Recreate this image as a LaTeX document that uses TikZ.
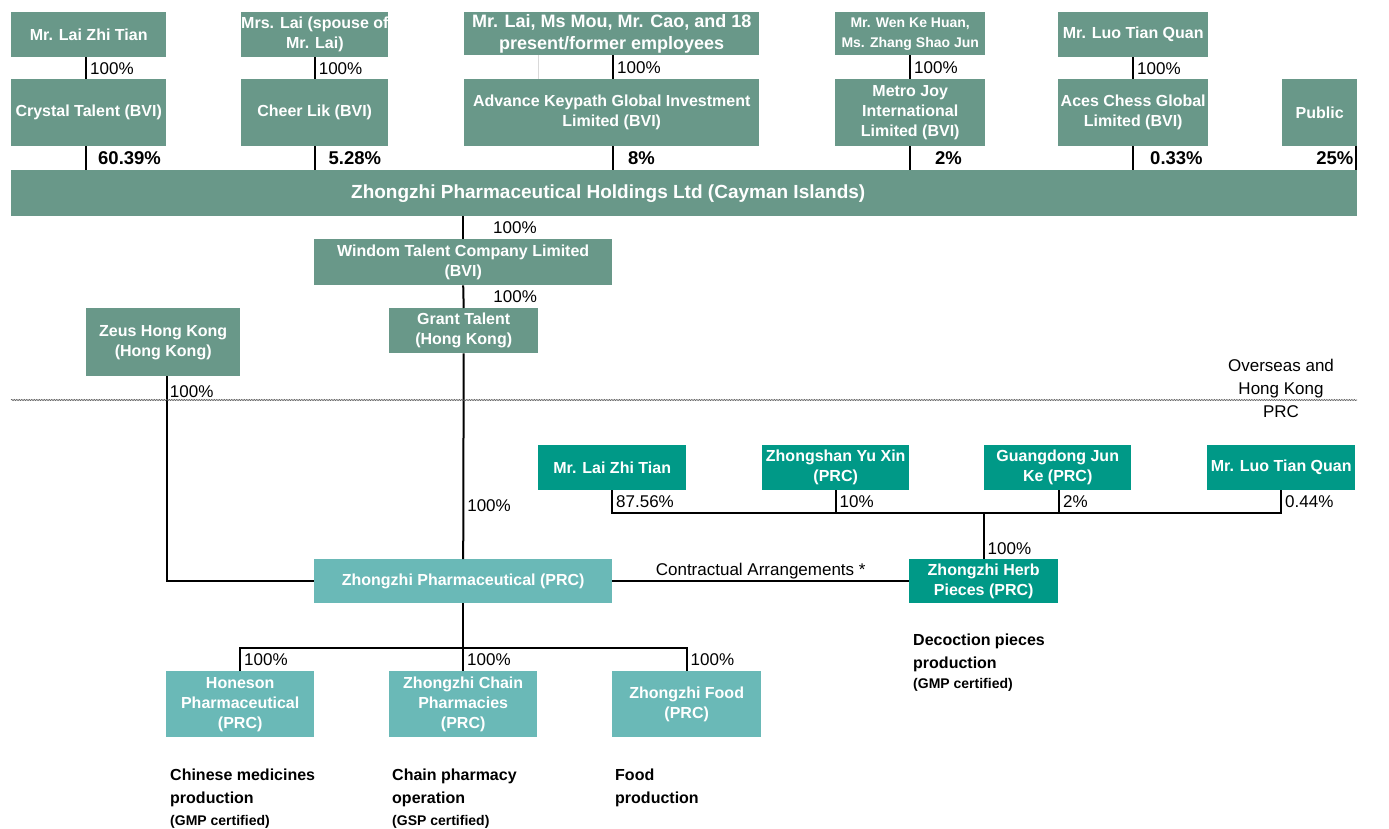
\documentclass[tikz,border=0pt]{standalone}
\usepackage{fontspec}
\setmainfont{Liberation Sans}
\usetikzlibrary{decorations.pathmorphing}
\definecolor{gcol}{RGB}{105,152,137}
\definecolor{tcol}{RGB}{0,153,135}
\definecolor{lcol}{RGB}{106,185,183}
\newcommand{\fsz}[2]{\fontsize{#1}{#2}\selectfont}
\newcommand{\bx}[7]{\node[#6, minimum width={#4pt-#2pt}, minimum height={#5pt-#3pt}] (#1) at (#2,#3) {#7};}
\begin{document}
\begin{tikzpicture}[x=1pt,y=-1pt,
  box/.style={anchor=north west, inner sep=0pt, align=center, text=white, font=\bfseries\fsz{16}{20}},
  gbox/.style={box, fill=gcol},
  tbox/.style={box, fill=tcol},
  lbox/.style={box, fill=lcol},
  conn/.style={line width=2pt, black},
  pct/.style={font=\fsz{17}{20}, inner sep=1pt},
  pl/.style={right, xshift=2pt, pct},
  bpct/.style={font=\bfseries\fsz{18.5}{22}, inner sep=1pt},
  desc/.style={anchor=base west, inner sep=0pt, font=\bfseries\fsz{16}{20}},
  descs/.style={anchor=base west, inner sep=0pt, font=\bfseries\fsz{14}{18}},
  sepline/.style={decorate, decoration={snake, amplitude=0.6pt, segment length=2.5pt}, draw=black!65, line width=0.6pt},
]
\fill[white] (0,0) rectangle (1389,829);
\useasboundingbox (0,0) rectangle (1389,829);

% top owners
\bx{lai1}{11}{12}{166}{57}{gbox}{Mr. Lai Zhi Tian}
\bx{mrslai}{241}{12}{388}{57}{gbox}{Mrs. Lai (spouse of\\Mr. Lai)}
\bx{employees}{464}{12}{759}{55}{gbox, font=\bfseries\fsz{18}{22}}{Mr. Lai, Ms Mou, Mr. Cao, and 18\\present/former employees}
\bx{wen}{835}{12}{985}{55}{gbox, font=\bfseries\fsz{14}{20}}{Mr. Wen Ke Huan,\\Ms. Zhang Shao Jun}
\bx{luo1}{1058}{12}{1208}{57}{gbox}{Mr. Luo Tian Quan}

% BVI holding companies
\bx{crystal}{11}{79}{166}{146}{gbox}{Crystal Talent (BVI)}
\bx{cheer}{241}{79}{388}{146}{gbox}{Cheer Lik (BVI)}
\bx{advance}{464}{79}{759}{146}{gbox}{Advance Keypath Global Investment\\Limited (BVI)}
\bx{metro}{835}{79}{985}{146}{gbox}{Metro Joy\\International\\Limited (BVI)}
\bx{aces}{1058}{79}{1208}{146}{gbox}{Aces Chess Global\\Limited (BVI)}
\bx{public}{1282}{79}{1357}{146}{gbox}{Public}

\bx{holding}{11}{170}{1357}{216}{gbox, font=\bfseries\fsz{19}{23}}{\hspace*{-152pt}Zhongzhi Pharmaceutical Holdings Ltd (Cayman Islands)}

\bx{windom}{314}{239}{612}{285}{gbox}{Windom Talent Company Limited\\(BVI)}
\bx{grant}{389}{308}{538}{353}{gbox}{Grant Talent\\(Hong Kong)}
\bx{zeus}{86}{308}{240}{376}{gbox}{Zeus Hong Kong\\(Hong Kong)}

% PRC
\bx{lai2}{538}{445}{686}{490}{tbox}{Mr. Lai Zhi Tian}
\bx{zys}{762}{445}{909}{490}{tbox}{Zhongshan Yu Xin\\(PRC)}
\bx{gjk}{984}{445}{1131}{490}{tbox}{Guangdong Jun\\Ke (PRC)}
\bx{luo2}{1207}{445}{1355}{490}{tbox}{Mr. Luo Tian Quan}
\bx{pharma}{314}{559}{612}{603}{lbox}{Zhongzhi Pharmaceutical (PRC)}
\bx{herb}{909}{559}{1058}{603}{tbox}{Zhongzhi Herb\\Pieces (PRC)}
\bx{hon}{166}{671}{314}{737}{lbox}{Honeson\\Pharmaceutical\\(PRC)}
\bx{chain}{389}{671}{537}{737}{lbox}{Zhongzhi Chain\\Pharmacies\\(PRC)}
\bx{food}{612}{671}{761}{737}{lbox}{Zhongzhi Food\\(PRC)}

% top connectors
\draw[conn] ([xshift=-2.5pt]lai1.south) -- ([xshift=-2.5pt]lai1.south |- crystal.north) node[midway, pl]{100\%};
\draw[conn] (mrslai.south) -- (mrslai.south |- cheer.north) node[midway, pl]{100\%};
\draw[line width=1pt, black!15] ([xshift=-73.5pt]employees.south) -- ([xshift=-73.5pt]employees.south |- advance.north);
\draw[conn] ([xshift=1.5pt]employees.south) -- ([xshift=1.5pt]employees.south |- advance.north) node[midway, pl]{100\%};
\draw[conn] (wen.south) -- (wen.south |- metro.north) node[midway, pl]{100\%};
\draw[conn] (luo1.south) -- (luo1.south |- aces.north) node[midway, pl]{100\%};

\draw[conn] ([xshift=-2.5pt]crystal.south) -- ([xshift=-2.5pt]crystal.south |- holding.north) node[midway, anchor=west, xshift=10pt, bpct]{60.39\%};
\draw[conn] (cheer.south) -- (cheer.south |- holding.north) node[midway, anchor=west, xshift=12pt, bpct]{5.28\%};
\draw[conn] ([xshift=1.5pt]advance.south) -- ([xshift=1.5pt]advance.south |- holding.north) node[midway, anchor=west, xshift=13pt, bpct]{8\%};
\draw[conn] (metro.south) -- (metro.south |- holding.north) node[midway, anchor=west, xshift=23pt, bpct]{2\%};
\draw[conn] (aces.south) -- (aces.south |- holding.north) node[midway, anchor=west, xshift=15pt, bpct]{0.33\%};
\draw[conn] ([xshift=-1pt]public.south east) -- ([xshift=-1pt]public.south east |- holding.north) node[midway, anchor=east, xshift=-1pt, bpct]{25\%};

% middle
\draw[conn] (windom.north |- holding.south) -- (windom.north) node[midway, anchor=west, xshift=28pt, pct]{100\%};
\draw[conn] (windom.south) -- (grant.north) node[midway, anchor=west, xshift=28pt, pct]{100\%};
\draw[conn] (grant.south) -- (pharma.north) node[pos=0.74, pl]{100\%};
\draw[conn] ([xshift=3.5pt]zeus.south) -- ([xshift=3.5pt]zeus.south |- pharma.west) -- (pharma.west);
\node[pct, anchor=west] (zlab) at ([xshift=5.5pt, yshift=-15pt]zeus.south) {100\%};

% border line
\draw[sepline] (11,400) -- (1357,400);
\node[font=\fsz{17}{23}, align=center, inner sep=0pt] (ovs) at (1281,379) {Overseas and\\Hong Kong};
\node[font=\fsz{17}{23}, inner sep=0pt] (prc) at (1281,412) {PRC};

% PRC shareholders
\coordinate (bar) at (0,513);
\draw[conn] (lai2.south) -- (lai2.south |- bar) node[midway, pl]{87.56\%} -- (luo2.south |- bar) -- (luo2.south) node[midway, pl]{0.44\%};
\draw[conn] (zys.south) -- (zys.south |- bar) node[midway, pl]{10\%};
\draw[conn] ([xshift=1.5pt]gjk.south) -- ([xshift=1.5pt]gjk.south |- bar) node[midway, pl]{2\%};
\draw[conn] (herb.north |- bar) -- (herb.north) node[pos=0.78, pl]{100\%};

\draw[conn] (pharma.east) -- (herb.west) node[midway, above, pct]{Contractual Arrangements *};

% subsidiaries
\coordinate (cbar) at (0,648);
\draw[conn] (pharma.south) -- (pharma.south |- cbar);
\draw[conn] (hon.north) -- (hon.north |- cbar) node[midway, pl]{100\%} -- (food.north |- cbar) -- (food.north) node[midway, pl]{100\%};
\draw[conn] (chain.north |- cbar) -- (chain.north) node[midway, pl]{100\%};

% descriptions
\node[desc] (d1a) at (170,780) {Chinese medicines};
\node[desc] (d1b) at (170,803) {production};
\node[descs] (d1c) at (170,825) {(GMP certified)};
\node[desc] (d2a) at (392,780) {Chain pharmacy};
\node[desc] (d2b) at (392,803) {operation};
\node[descs] (d2c) at (392,825) {(GSP certified)};
\node[desc] (d3a) at (615,780) {Food};
\node[desc] (d3b) at (615,803) {production};
\node[desc] (d4a) at (913,645) {Decoction pieces};
\node[desc] (d4b) at (913,668) {production};
\node[descs] (d4c) at (913,688) {(GMP certified)};
\end{tikzpicture}
\end{document}
